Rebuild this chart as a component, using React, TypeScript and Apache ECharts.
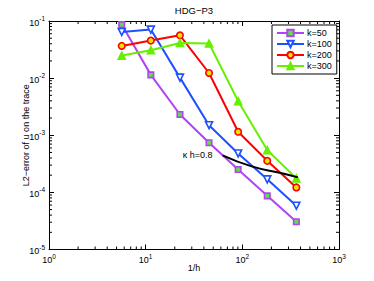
import React, { useEffect, useRef } from 'react';
import * as echarts from 'echarts';

const invH = [5.657, 11.31, 22.63, 45.25, 90.51, 181.0, 362.0];
const errK50 = [0.0865, 0.0114, 0.00231, 7.4e-4, 2.52e-4, 8.7e-5, 3.06e-5];
const errK100 = [0.0643, 0.0707, 0.0102, 1.5e-3, 4.8e-4, 1.69e-4, 5.84e-5];
const errK200 = [0.0366, 0.0454, 0.0562, 0.0123, 1.15e-3, 3.57e-4, 1.22e-4];
const errK300 = [0.0248, 0.0308, 0.0412, 0.0403, 3.95e-3, 5.5e-4, 1.76e-4];
const khInvH = [62.5, 125, 250, 375];
const khErr = [4.45e-4, 2.85e-4, 2.18e-4, 1.83e-4];
const khLabel = 'κ h=0.8';
const seriesNames = ['k=50', 'k=100', 'k=200', 'k=300'];

const mantissas = [2, 3, 4, 5, 6, 7, 8, 9];
const xDecades = [1, 10, 100];
const yDecades = [1e-5, 1e-4, 1e-3, 1e-2];
const xMinor = xDecades.flatMap((d) => mantissas.map((m) => m * d));
const yMinor = yDecades.flatMap((d) => mantissas.map((m) => m * d));

const FONT = 'Liberation Sans, Arial, Helvetica, sans-serif';
const X_MIN = 1, X_MAX = 1000, Y_MIN = 1e-5, Y_MAX = 0.1;

const supFmt = (v: number) => {
  const e = Math.round(Math.log10(v));
  return `{b|10}{e|${e < 0 ? '-' : ''}${Math.abs(e)}}`;
};
const rich = {
  b: { fontSize: 9, fontFamily: FONT, color: '#000', lineHeight: 12, verticalAlign: 'bottom' },
  e: { fontSize: 6.5, fontFamily: FONT, color: '#000', lineHeight: 4, verticalAlign: 'top' },
};

const zip = (xs: number[], ys: number[]) => xs.map((x, i) => [x, ys[i]]);

export default function App() {
  const ref = useRef<HTMLDivElement>(null);
  useEffect(() => {
    if (!ref.current) return;
    const chart = echarts.init(ref.current, null, { renderer: 'svg' });
    const baseAxis = {
      type: 'log' as const,
      logBase: 10,
      axisLine: { show: true, onZero: false, lineStyle: { color: '#000', width: 1 } },
      axisTick: { show: true, inside: true, length: 5, lineStyle: { color: '#000' } },
      splitLine: { show: false },
      minorTick: { show: false },
    };
    const minorSeries = (vals: number[], isX: boolean) => ({
      type: 'custom',
      silent: true,
      xAxisIndex: 0,
      yAxisIndex: 0,
      data: vals.map((v) => [v]),
      renderItem: (params: any, api: any) => {
        const v = api.value(0);
        const L = 3;
        const st = { stroke: '#000', lineWidth: 1 };
        if (isX) {
          const p0 = api.coord([v, Y_MIN]);
          const p1 = api.coord([v, Y_MAX]);
          return {
            type: 'group',
            children: [
              { type: 'line', shape: { x1: p0[0], y1: p0[1], x2: p0[0], y2: p0[1] - L }, style: st },
              { type: 'line', shape: { x1: p1[0], y1: p1[1], x2: p1[0], y2: p1[1] + L }, style: st },
            ],
          };
        }
        const p0 = api.coord([X_MIN, v]);
        const p1 = api.coord([X_MAX, v]);
        return {
          type: 'group',
          children: [
            { type: 'line', shape: { x1: p0[0], y1: p0[1], x2: p0[0] + L, y2: p0[1] }, style: st },
            { type: 'line', shape: { x1: p1[0], y1: p1[1], x2: p1[0] - L, y2: p1[1] }, style: st },
          ],
        };
      },
      z: 1,
    });
    const lineSeries = (name: string, ys: number[], color: string, fill: string, symbol: string, size: number, rot = 0) => ({
      name,
      type: 'line',
      data: zip(invH, ys),
      symbol,
      symbolSize: size,
      symbolRotate: rot,
      showAllSymbol: true,
      lineStyle: { color, width: 2 },
      itemStyle: { color: fill, borderColor: color, borderWidth: 1.6 },
      z: 3,
    });
    chart.setOption({
      animation: false,
      backgroundColor: '#fff',
      title: {
        text: 'HDG−P3',
        left: 194,
        textAlign: 'center',
        top: 5,
        padding: 0,
        textStyle: { fontSize: 9.5, fontWeight: 'normal', fontFamily: FONT, color: '#000' },
      },
      grid: { left: 49, right: 35, top: 21, bottom: 31.5 },
      legend: {
        show: true,
        data: seriesNames,
        orient: 'vertical',
        left: 272,
        top: 25,
        padding: [3, 5, 3, 4],
        itemGap: 1,
        itemWidth: 27,
        itemHeight: 8,
        borderColor: '#000',
        borderWidth: 1,
        borderRadius: 0,
        backgroundColor: '#fff',
        textStyle: { fontSize: 9, fontFamily: FONT, color: '#000', lineHeight: 10, padding: [0, 0, 0, -2] },
      },
      xAxis: [
        {
          ...baseAxis,
          min: X_MIN,
          max: X_MAX,
          position: 'bottom',
          name: '1/h',
          nameLocation: 'middle',
          nameGap: 14,
          nameMoveOverlap: false,
          nameTextStyle: { fontSize: 9, fontFamily: FONT, color: '#000' },
          axisLabel: { formatter: supFmt, rich, margin: 3 },
        },
        {
          ...baseAxis,
          min: X_MIN,
          max: X_MAX,
          position: 'top',
          axisLabel: { show: false },
        },
      ],
      yAxis: [
        {
          ...baseAxis,
          min: Y_MIN,
          max: Y_MAX,
          position: 'left',
          name: 'L2−error of u on the trace',
          nameLocation: 'middle',
          nameGap: 19,
          nameMoveOverlap: false,
          nameTextStyle: { fontSize: 9, fontFamily: FONT, color: '#000' },
          axisLabel: { formatter: supFmt, rich, margin: 4 },
        },
        {
          ...baseAxis,
          min: Y_MIN,
          max: Y_MAX,
          position: 'right',
          axisLabel: { show: false },
        },
      ],
      series: [
        minorSeries(xMinor, true),
        minorSeries(yMinor, false),
        lineSeries('k=50', errK50, '#b044f4', '#5ce03a', 'rect', 5.5),
        lineSeries('k=100', errK100, '#1f50ff', '#ffffff', 'triangle', 7, 180),
        lineSeries('k=200', errK200, '#ff0000', '#e8e600', 'circle', 6.5),
        lineSeries('k=300', errK300, '#66f000', '#66f000', 'triangle', 7),
        {
          name: 'kh',
          type: 'line',
          smooth: true,
          symbol: 'circle',
          symbolSize: 0,
          showAllSymbol: true,
          lineStyle: { color: '#000', width: 2 },
          itemStyle: { color: '#000' },
          data: zip(khInvH, khErr).map((p, i) =>
            i === 0
              ? {
                  value: p,
                  label: {
                    show: true,
                    position: 'left',
                    distance: 10,
                    formatter: khLabel,
                    fontSize: 9,
                    fontFamily: FONT,
                    color: '#000',
                  },
                }
              : { value: p }
          ),
          z: 4,
        },
      ],
    });
    return () => chart.dispose();
  }, []);
  return <div ref={ref} style={{ width: 374, height: 281, margin: -8 }} />;
}
